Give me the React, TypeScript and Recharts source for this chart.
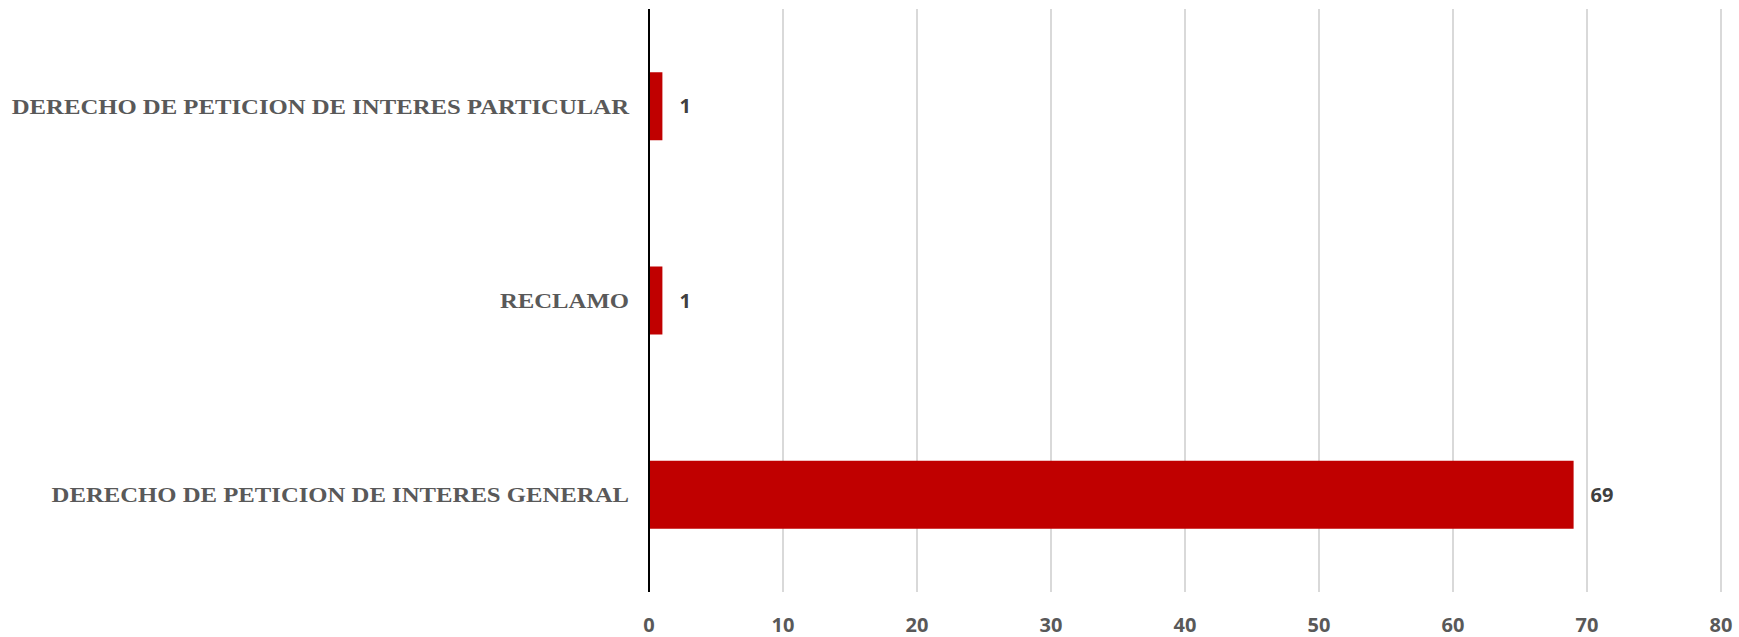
import React from 'react';
import { BarChart, Bar, XAxis, YAxis, CartesianGrid, LabelList } from 'recharts';

const categories = [
  'DERECHO DE PETICION DE INTERES PARTICULAR',
  'RECLAMO',
  'DERECHO DE PETICION DE INTERES GENERAL',
];
const counts = [1, 1, 69];
const xTicks = [0, 10, 20, 30, 40, 50, 60, 70, 80];

const data = categories.map((name, i) => ({ name, value: counts[i] }));

const CategoryTick = (props: any) => {
  const { x, y, payload } = props;
  const sx = 1.15;
  return (
    <text
      x={x}
      y={y}
      dy="0.355em"
      textAnchor="end"
      fill="#595959"
      fontSize={21.5}
      fontWeight={700}
      fontFamily="Liberation Serif"
      transform={`translate(${x},${y}) scale(${sx},1) translate(${-x},${-y})`}
    >
      {payload.value}
    </text>
  );
};

export default function App() {
  return (
    <div style={{ position: 'absolute', left: 0, top: 0, width: 1739, height: 637, background: '#fff' }}>
      <BarChart
        width={1739}
        height={637}
        data={data}
        layout="vertical"
        margin={{ top: 9, right: 18, bottom: 0, left: 0 }}
        barCategoryGap="32.5%"
      >
        <CartesianGrid horizontal={false} vertical stroke="#d9d9d9" strokeWidth={2} />
        <XAxis
          type="number"
          domain={[0, 80]}
          ticks={xTicks}
          interval={0}
          axisLine={false}
          tickLine={false}
          height={45}
          tickMargin={20}
          tick={{ fill: '#595959', fontSize: 20, fontWeight: 700, fontFamily: 'Open Sans' }}
        />
        <YAxis
          type="category"
          dataKey="name"
          width={649}
          axisLine={{ stroke: '#000', strokeWidth: 2 }}
          tickLine={false}
          tickMargin={14}
          tick={<CategoryTick />}
        />
        <Bar dataKey="value" fill="#c00000" isAnimationActive={false}>
          <LabelList
            dataKey="value"
            position="right"
            offset={17}
            style={{ fill: '#404040', fontSize: 20, fontWeight: 700, fontFamily: 'Open Sans' }}
          />
        </Bar>
      </BarChart>
    </div>
  );
}
